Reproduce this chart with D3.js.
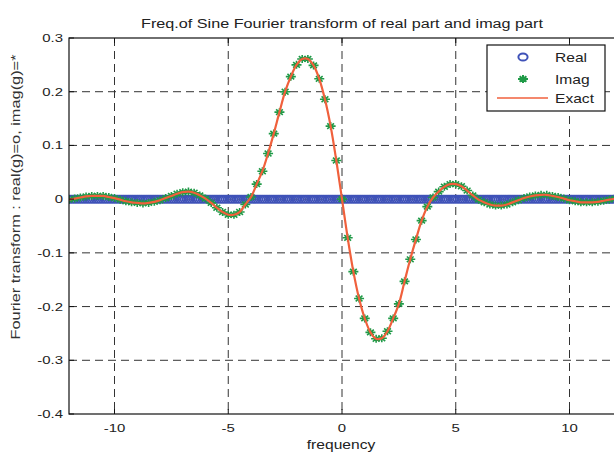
<!DOCTYPE html>
<html>
<head>
<meta charset="utf-8">
<script src="https://cdn.jsdelivr.net/npm/d3@7"></script>
<style>
  body { margin: 0; background: #fff; }
  svg { display: block; font-family: "Liberation Sans", Arial, Helvetica, sans-serif; }
  .grid line { stroke: #333; stroke-width: 1; stroke-dasharray: 8,5; }
  text { fill: #222; }
</style>
</head>
<body>
<svg id="chart" width="614" height="453"></svg>
<script>
const xTicks = [-10, -5, 0, 5, 10];
const yTicks = [0.3, 0.2, 0.1, 0, -0.1, -0.2, -0.3, -0.4];
const yTickLabels = ['0.3', '0.2', '0.1', '0', '-0.1', '-0.2', '-0.3', '-0.4'];

// real part sampled densely: all zero
const realFreq = d3.range(-12, 12.001, 0.1);
const realValues = realFreq.map(() => 0);

// imaginary part, one value per 0.25 step from -12 to 12
const imagFreq = d3.range(-12, 12.001, 0.25);
const imagValues = [
  -0.001, 0.001, 0.003, 0.005, 0.006, 0.006, 0.006, 0.004,          // -12 .. -10.25
   0.002, -0.001, -0.004, -0.006, -0.007, -0.008, -0.007, -0.005,    // -10 .. -8.25
  -0.002, 0.002, 0.006, 0.010, 0.013, 0.014, 0.012, 0.007,           // -8 .. -6.25
   0.001, -0.007, -0.016, -0.024, -0.029, -0.029, -0.024, -0.010,    // -6 .. -4.25
   0.004, 0.028, 0.052, 0.085, 0.122, 0.162, 0.200, 0.228,           // -4 .. -2.25
   0.250, 0.261, 0.261, 0.249, 0.224, 0.186, 0.136, 0.072,           // -2 .. -0.25
   0.000,                                                            // 0
  -0.072, -0.135, -0.185, -0.222, -0.248, -0.260, -0.259, -0.246,    // 0.25 .. 2
  -0.222, -0.195, -0.153, -0.112, -0.075, -0.040, -0.014, 0.003,     // 2.25 .. 4
   0.014, 0.023, 0.028, 0.028, 0.024, 0.016, 0.007, -0.001,          // 4.25 .. 6
  -0.006, -0.010, -0.012, -0.012, -0.010, -0.006, -0.002, 0.002,     // 6.25 .. 8
   0.005, 0.007, 0.008, 0.008, 0.006, 0.004, 0.001, -0.002,          // 8.25 .. 10
  -0.004, -0.006, -0.006, -0.006, -0.005, -0.003, -0.001, 0.001      // 10.25 .. 12
];

const colors = { real: '#3f52b8', imag: '#1f9a47', exact: '#f0603c' };
const stretch = 1.3; // the picture is wider than tall: text and markers are stretched

const svg = d3.select('#chart');
const plot = { left: 69, top: 38, right: 615, bottom: 414 };

const x = d3.scaleLinear().domain([-12, 12]).range([plot.left, plot.right]);
const y = d3.scaleLinear().domain([-0.4, 0.3]).range([plot.bottom, plot.top]);

function hText(g, px, py, str, size, anchor) {
  return g.append('text')
    .attr('transform', `translate(${px},${py}) scale(${stretch},1)`)
    .attr('text-anchor', anchor || 'start')
    .style('font-size', size + 'px')
    .text(str);
}

// grid
const grid = svg.append('g').attr('class', 'grid');
grid.selectAll('line.v').data(xTicks).enter().append('line')
  .attr('x1', d => x(d)).attr('x2', d => x(d))
  .attr('y1', plot.top).attr('y2', plot.bottom);
grid.selectAll('line.h').data(yTicks.filter(v => v < 0.3 && v > -0.4)).enter().append('line')
  .attr('x1', plot.left).attr('x2', plot.right)
  .attr('y1', d => y(d)).attr('y2', d => y(d));

svg.append('clipPath').attr('id', 'clip').append('rect')
  .attr('x', plot.left).attr('y', plot.top)
  .attr('width', plot.right - plot.left).attr('height', plot.bottom - plot.top);
const data = svg.append('g').attr('clip-path', 'url(#clip)');

// Real: open circles
data.append('g').selectAll('ellipse').data(realFreq).enter().append('ellipse')
  .attr('cx', d => x(d)).attr('cy', (d, i) => y(realValues[i]))
  .attr('rx', 4.4).attr('ry', 3.7).attr('fill', 'none')
  .attr('stroke', colors.real).attr('stroke-width', 1.6);

// Imag: asterisks
const starPath = 'M-5,0H5M0,-4V4M-3.4,-2.8L3.4,2.8M-3.4,2.8L3.4,-2.8';
data.append('g').selectAll('path').data(imagFreq).enter().append('path')
  .attr('transform', (d, i) => `translate(${x(d)},${y(imagValues[i])})`)
  .attr('d', starPath).attr('fill', 'none')
  .attr('stroke', colors.imag).attr('stroke-width', 1.6);

// Exact line
const line = d3.line()
  .x(d => x(d[0])).y(d => y(d[1]))
  .curve(d3.curveCatmullRom.alpha(0.5));
data.append('path')
  .datum(imagFreq.map((f, i) => [f, imagValues[i]]))
  .attr('d', line).attr('fill', 'none')
  .attr('stroke', colors.exact).attr('stroke-width', 2.2);

// axes box
svg.append('rect')
  .attr('x', plot.left).attr('y', plot.top)
  .attr('width', plot.right - plot.left).attr('height', plot.bottom - plot.top)
  .attr('fill', 'none').attr('stroke', '#111').attr('stroke-width', 1.2);

// inward ticks
const ticks = svg.append('g').attr('stroke', '#111').attr('stroke-width', 1);
xTicks.forEach(v => {
  ticks.append('line').attr('x1', x(v)).attr('x2', x(v)).attr('y1', plot.bottom).attr('y2', plot.bottom - 5);
  ticks.append('line').attr('x1', x(v)).attr('x2', x(v)).attr('y1', plot.top).attr('y2', plot.top + 5);
});
yTicks.forEach(v => {
  ticks.append('line').attr('x1', plot.left).attr('x2', plot.left + 5).attr('y1', y(v)).attr('y2', y(v));
});

// tick labels
const xl = svg.append('g');
xTicks.forEach(v => hText(xl, x(v), 432, String(v), 11.5, 'middle'));
const yl = svg.append('g');
yTicks.forEach((v, i) => hText(yl, 63, y(v) + 4, yTickLabels[i], 11.5, 'end'));

// titles
svg.append('text').attr('x', 342).attr('y', 28).attr('text-anchor', 'middle')
  .attr('textLength', 402).attr('lengthAdjust', 'spacingAndGlyphs')
  .style('font-size', '12px')
  .text('Freq.of Sine Fourier transform of real part and imag part');
hText(svg, 341, 449, 'frequency', 12, 'middle');
svg.append('text')
  .attr('transform', 'translate(20,197) rotate(-90)').attr('text-anchor', 'middle')
  .attr('textLength', 285).attr('lengthAdjust', 'spacingAndGlyphs')
  .style('font-size', '12px').style('fill', '#333')
  .text('Fourier transform : real(g)=o, imag(g)=*');

// legend
const lg = svg.append('g');
lg.append('rect').attr('x', 487).attr('y', 45).attr('width', 118).attr('height', 66)
  .attr('fill', '#fff').attr('stroke', '#111').attr('stroke-width', 1.2);
const legendItems = ['Real', 'Imag', 'Exact'];
const legendY = [57, 79, 98];
lg.append('ellipse').attr('cx', 523).attr('cy', legendY[0]).attr('rx', 4.6).attr('ry', 3.6)
  .attr('fill', 'none').attr('stroke', colors.real).attr('stroke-width', 2);
lg.append('path').attr('transform', `translate(523,${legendY[1]})`).attr('d', starPath)
  .attr('fill', 'none').attr('stroke', colors.imag).attr('stroke-width', 2);
lg.append('line').attr('x1', 497).attr('x2', 548).attr('y1', legendY[2]).attr('y2', legendY[2])
  .attr('stroke', colors.exact).attr('stroke-width', 1.6);
legendItems.forEach((t, i) => hText(lg, 555, legendY[i] + 4.5, t, 12, 'start'));
</script>
</body>
</html>
